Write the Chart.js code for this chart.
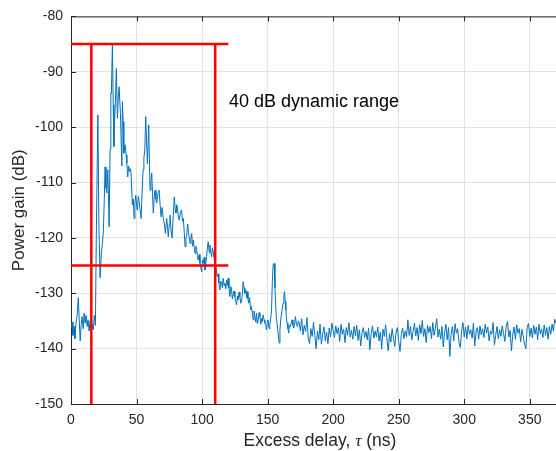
<!DOCTYPE html>
<html>
<head>
<meta charset="utf-8">
<script src="https://cdn.jsdelivr.net/npm/chart.js@4.4.1/dist/chart.umd.min.js"></script>
<style>
  html, body { margin: 0; padding: 0; background: #fff; }
</style>
</head>
<body>
<canvas id="pdpChart" width="556" height="451"></canvas>
<script>
// Power delay profile (ns, dB)
const peakDelay = [
  0, 0.8, 1.5, 2.3, 3, 3.8, 4.6, 5.6, 6.3, 7, 7.8, 8.5, 9.3, 10, 10.8, 11.5, 12.3, 13, 13.8, 14.6,
  15.4, 16.2, 17, 17.8, 18.6, 19.4, 20.5, 21.3, 22.2, 23.2, 24, 24.7, 25.4, 26, 26.7, 27.3, 28.1, 29.1, 29.8, 30.4,
  30.8, 31.6, 32.2, 32.7, 33.2, 33.7, 34.6, 35.4, 36, 36.7, 37.7, 38.8, 39.2, 39.8, 40.3, 41.3, 42, 42.6, 43.3, 44,
  44.5, 45.2, 45.8, 46.8, 47.5, 48.1, 48.8, 49.4, 50, 50.6, 51.3, 51.9, 52.7, 53.5, 54.2, 55, 55.6, 56.3, 57, 57.7,
  58.3, 59.3, 60.3, 61, 61.6, 62.2, 62.8, 63.5, 64.1, 64.8, 65.4, 66.3, 67.2, 68, 68.7, 69.5, 70.4, 71.2, 72, 73,
  73.6, 74.2, 75, 75.5, 76.3, 77.1, 78, 78.8, 79.5, 80.1, 80.6, 81.1, 81.8, 82.6, 83.5, 84.4, 85, 85.7, 86.4, 87,
  87.7, 88.3, 89, 89.5, 90.2, 90.8, 91.5, 92.1, 92.7, 93.3, 94, 94.6, 95.3, 95.9, 96.5, 97.1, 97.8, 98.4, 99, 99.7,
  100.3, 100.9, 101.6, 102.2, 102.9, 103.5, 104.1, 104.7, 105.4, 106, 106.7, 107.3, 107.9, 108.5, 109.3, 110.3, 111, 111.6, 112.2, 112.8,
  113.6, 114.2, 114.9, 115.5, 116.1, 116.8, 117.4, 118.1, 118.7, 119.3, 119.9, 120.5, 121.2, 121.9, 122.5, 123.1, 123.7, 124.4, 125, 125.7,
  126.3, 127, 127.5, 128.2, 128.8, 129.5, 130.1, 130.7, 131.3, 132, 132.6, 133.4, 134, 134.4, 135, 135.7, 136.3, 137, 137.7, 138.3,
  139, 139.6, 140.3, 141, 141.5, 142.2, 142.8, 143.5, 144.1, 144.8, 145.4, 146, 146.6, 147.3, 147.9, 148.6, 149.2, 149.8, 150.4, 151.1,
  151.7, 152.4, 153, 153.6, 154.2, 155, 155.6, 156.2, 156.7, 157.2, 158, 158.8, 159.4, 160, 160.9, 161.8, 162.4, 162.9, 163.4, 163.9,
  164.4, 164.9, 165.5, 166.1, 166.7, 167.4, 168, 168.7, 169.3, 170, 170.6, 171.2, 172, 172.8, 173.4, 174
];
const peakGain = [
  -136.3, -135.2, -137.6, -136, -138.2, -135.4, -134.2, -130.8, -135, -138.6, -135.6, -134.2, -136.4, -133.6, -135.4, -134, -136, -134.8, -136.8, -135,
  -137, -135.6, -136.6, -134, -135.8, -118, -97.8, -118, -127.2, -122.5, -121, -118.6, -113, -107.2, -111, -111.9, -107.7, -118, -104, -93.9,
  -94, -84.9, -96, -103.5, -99, -96.6, -89.4, -98.4, -95, -92.7, -97.5, -107, -95.4, -99, -104.7, -103.2, -105, -106.5, -109, -107,
  -108, -107.5, -108.3, -114, -113, -116.5, -113.5, -112.3, -114, -115, -112.5, -113.2, -115, -116.5, -112, -107.7, -105.5, -104.1, -98.1, -103,
  -106.6, -99.6, -111.4, -109.5, -108.3, -112, -115.5, -112.5, -111.4, -113, -113.7, -112, -111.4, -114, -116.2, -114.5, -116.4, -117.5, -119.2, -116.5,
  -118, -119.8, -117.6, -115.9, -118.5, -120, -116, -112.6, -114.8, -115.5, -114, -114.4, -116, -116.8, -115.3, -115, -117, -116.5, -119, -121.6,
  -120, -119.5, -117.5, -118.6, -120, -121, -119.8, -119.2, -121.5, -120.4, -121.8, -122.8, -121.5, -122.2, -123.2, -124, -123, -124.6, -125.4, -126.1,
  -124, -124.6, -123.5, -125.8, -124.5, -123.4, -121.5, -120.7, -122.6, -121.3, -122.8, -123.4, -121.8, -122.5, -124, -124.9, -126, -127, -126.5, -128.2,
  -129.4, -127.8, -128.2, -129, -127.3, -128.6, -128.2, -129.2, -127.6, -128.6, -127.3, -129, -130.6, -128.8, -129.4, -131, -130.3, -129.6, -130.6, -131.5,
  -132.1, -130.5, -131.2, -129.8, -130.6, -131.8, -131.5, -130.2, -127.9, -129, -130, -129.4, -130.8, -129.7, -131, -131.8, -130.8, -133, -132.4, -133.6,
  -134.8, -133.2, -134.2, -135.2, -133.6, -135.5, -134.8, -133.5, -134.2, -135.6, -134.5, -135.2, -133.9, -134.8, -135.4, -135.8, -136.6, -135, -134.8, -136.4,
  -135.7, -134.5, -133, -128, -124.9, -124.6, -129, -132.4, -134.6, -135.4, -137.2, -139, -136.5, -134.8, -133.2, -131.8, -130.5, -129.7, -131.5, -133,
  -134.6, -135.4, -136.4, -137.2, -135.8, -136, -135.4, -134.8, -135.8, -136.3, -135.6, -134.2, -135.6, -136, -135, -135.1
];
// Noise floor tail, one sample per ns from 175 ns on
const tailStart = 175;
const tailStep = 1;
const tailGain = [
  -136.8, -134.6, -137.5, -135.8, -136.9, -134.4, -138.2, -139.1, -136.4, -137.8,
  -135.2, -137.6, -140, -136.8, -138.4, -135.6, -139.2, -137.4, -136.1, -138.6,
  -137.0, -139.1, -136.3, -137.9, -135.4, -136.8, -138.0, -135.9, -137.3, -136.2,
  -138.7, -135.6, -137.4, -136.5, -138.9, -136.2, -137.6, -135.3, -137.9, -136.7,
  -138.3, -136.0, -137.7, -135.8, -138.5, -136.6, -139.5, -137.1, -136.2, -138.0,
  -136.9, -138.4, -136.3, -140.2, -137.2, -135.9, -138.1, -136.8, -137.9, -136.1,
  -138.6, -137.0, -140.1, -136.5, -137.8, -135.7, -138.2, -140.4, -137.3, -138.8,
  -136.4, -138.1, -139.6, -137.0, -136.2, -138.7, -140.5, -137.4, -136.3, -138.2,
  -136.8, -137.9, -134.8, -137.6, -136.0, -138.4, -136.9, -135.4, -137.7, -136.2,
  -138.5, -135.7, -137.3, -134.9, -137.8, -136.4, -138.9, -135.8, -137.1, -136.0,
  -138.2, -135.3, -137.6, -136.3, -134.6, -137.9, -136.5, -138.3, -136.0, -139.7,
  -137.1, -135.6, -138.4, -136.2, -141.4, -137.3, -136.0, -138.6, -135.5, -137.2,
  -136.4, -138.9, -139.8, -136.7, -135.3, -137.9, -136.1, -138.2, -135.8, -137.4,
  -136.6, -138.1, -135.4, -139.5, -137.0, -136.2, -138.3, -135.9, -137.5, -136.4,
  -138.0, -135.6, -137.2, -136.1, -138.6, -136.8, -137.4, -135.3, -139.3, -137.6,
  -136.0, -138.2, -136.6, -137.8, -135.9, -137.3, -138.7, -136.0, -135.1, -137.9,
  -136.7, -140.4, -137.5, -136.1, -138.3, -135.7, -137.2, -136.4, -138.8, -136.5,
  -137.7, -139.2, -140.0, -136.2, -135.5, -137.8, -136.3, -138.1, -135.8, -137.4,
  -136.1, -138.4, -135.6, -137.3, -136.5, -138.0, -135.7, -137.6, -136.2, -138.3,
  -136.0, -137.4, -135.6, -136.8, -134.7, -135.4
];

// 40 dB dynamic range window markers
const rangeTop = -85;
const rangeBottom = -125;
const windowStart = 15.5;
const windowEnd = 110;
const markerEnd = 120;
const axisFloor = -150;

const blue = "#0072BD";
const red = "#FF0000";
const axisColor = "#262626";
const fontFamily = "'Liberation Sans', Arial, Helvetica, sans-serif";

const trace = peakDelay.map((t, i) => ({ x: t, y: peakGain[i] }));
tailGain.forEach((g, i) => trace.push({ x: tailStart + i * tailStep, y: g }));

function redLine(x0, y0, x1, y1) {
  return {
    data: [{ x: x0, y: y0 }, { x: x1, y: y1 }],
    borderColor: red,
    borderWidth: 2.5,
    pointRadius: 0,
    order: 0,
    clip: false
  };
}

// MATLAB style box: top edge, inner ticks, x label with italic tau, annotation
const framePlugin = {
  id: "frame",
  afterDraw(chart) {
    const { ctx, chartArea } = chart;
    const xs = chart.scales.x;
    const ys = chart.scales.y;
    ctx.save();
    ctx.strokeStyle = axisColor;
    ctx.lineWidth = 1;
    ctx.beginPath();
    ctx.moveTo(chartArea.left, chartArea.top + 0.5);
    ctx.lineTo(chartArea.right, chartArea.top + 0.5);
    xs.ticks.forEach(tk => {
      const px = Math.round(xs.getPixelForValue(tk.value)) + 0.5;
      ctx.moveTo(px, chartArea.bottom);
      ctx.lineTo(px, chartArea.bottom - 5);
      ctx.moveTo(px, chartArea.top);
      ctx.lineTo(px, chartArea.top + 5);
    });
    ys.ticks.forEach(tk => {
      const py = Math.round(ys.getPixelForValue(tk.value)) + 0.5;
      ctx.moveTo(chartArea.left, py);
      ctx.lineTo(chartArea.left + 5, py);
    });
    ctx.stroke();

    // x axis title
    const parts = [
      { text: "Excess delay, ", font: "17.5px " + fontFamily },
      { text: "\u03C4", font: "italic 17.5px 'Liberation Serif', 'DejaVu Serif', serif" },
      { text: " (ns)", font: "17.5px " + fontFamily }
    ];
    let total = 0;
    parts.forEach(p => { ctx.font = p.font; p.w = ctx.measureText(p.text).width; total += p.w; });
    let cx = 320 - total / 2;
    ctx.fillStyle = axisColor;
    ctx.textBaseline = "middle";
    ctx.textAlign = "left";
    parts.forEach(p => { ctx.font = p.font; ctx.fillText(p.text, cx, 441); cx += p.w; });

    // annotation
    ctx.font = "18px " + fontFamily;
    ctx.fillStyle = "#000";
    ctx.fillText("40 dB dynamic range", xs.getPixelForValue(120.5), ys.getPixelForValue(-95.5));
    ctx.restore();
  }
};

new Chart(document.getElementById("pdpChart"), {
  type: "line",
  data: {
    datasets: [
      {
        data: trace,
        borderColor: blue,
        borderWidth: 1,
        pointRadius: 0,
        tension: 0,
        order: 1
      },
      redLine(0, rangeTop, markerEnd, rangeTop),
      redLine(0, rangeBottom, markerEnd, rangeBottom),
      redLine(windowStart, rangeTop, windowStart, axisFloor),
      redLine(windowEnd, rangeTop, windowEnd, axisFloor)
    ]
  },
  options: {
    responsive: false,
    animation: false,
    devicePixelRatio: 1,
    layout: { padding: { top: 16, right: 0, left: 0, bottom: 0 } },
    plugins: {
      legend: { display: false },
      tooltip: { enabled: false }
    },
    scales: {
      x: {
        type: "linear",
        min: 0,
        max: 370,
        afterFit: s => { s.height = 47; },
        ticks: {
          stepSize: 50,
          includeBounds: false,
          maxRotation: 0,
          padding: 8,
          color: axisColor,
          font: { family: fontFamily, size: 14 }
        },
        grid: { color: "#e3e3e3", drawTicks: false },
        border: { color: axisColor, width: 1 }
      },
      y: {
        min: -150,
        max: -80,
        afterFit: s => { s.width = 71; },
        ticks: {
          stepSize: 10,
          padding: 8,
          color: axisColor,
          font: { family: fontFamily, size: 14 }
        },
        grid: { color: "#e3e3e3", drawTicks: false },
        border: { color: axisColor, width: 1 },
        title: {
          display: true,
          text: "Power gain (dB)",
          color: axisColor,
          font: { family: fontFamily, size: 17 },
          padding: { top: 9, bottom: 0 }
        }
      }
    }
  },
  plugins: [framePlugin]
});
</script>
</body>
</html>
